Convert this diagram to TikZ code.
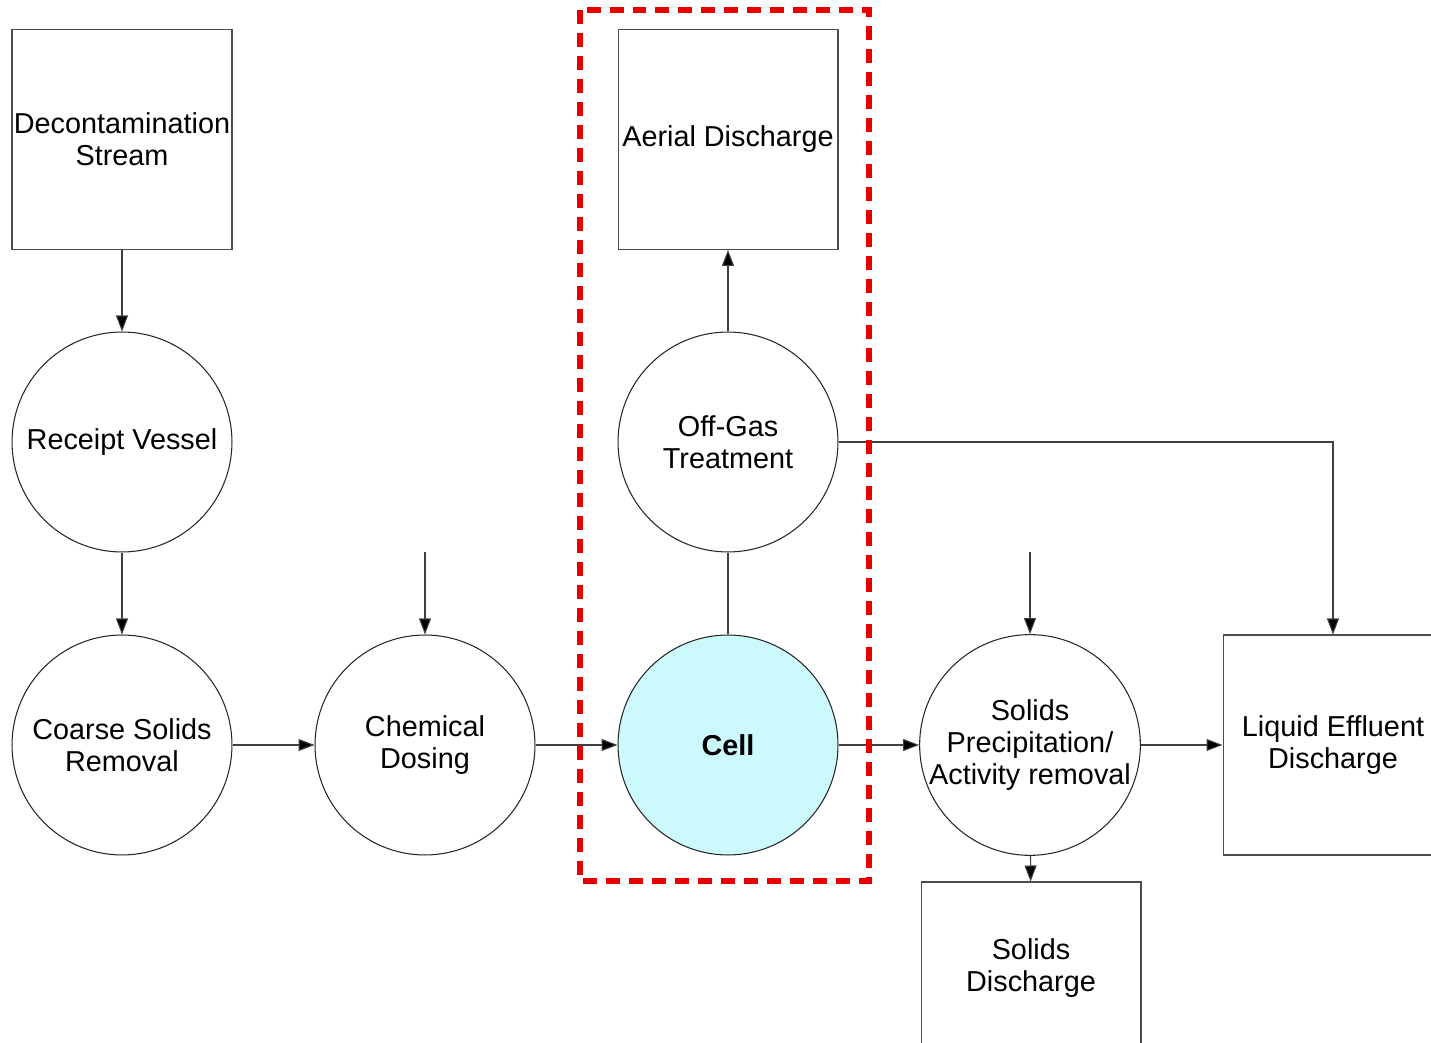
\documentclass[tikz,border=0pt]{standalone}
\usepackage{fontspec}
\setmainfont{Liberation Sans}
\usetikzlibrary{arrows.meta}

\definecolor{cellfill}{RGB}{204,250,252}
\definecolor{boxred}{RGB}{232,0,0}

\begin{document}
\begin{tikzpicture}[x=0.02cm, y=-0.02cm,
	every node/.style={font=\fontsize{16.4}{18.4}\selectfont, align=center, inner sep=0pt},
	unit/.style={draw=black!70, line width=0.6pt, minimum width=4.4cm, minimum height=4.4cm},
	vessel/.style={circle, draw=black!85, line width=0.6pt, minimum size=4.4cm},
	flow/.style={-{Triangle[length=3.2mm, width=2.4mm, fill=black]}, draw=black!75, line width=0.6pt}]
	\useasboundingbox (0,0) rectangle (1431,1043);
	\node [unit] (decon) at (122, 139.5) {Decontamination\\Stream};
	\node [vessel] (receipt) at (122, 442) {Receipt Vessel};
	\node [vessel] (coarse) at (122, 745) {Coarse Solids\\Removal};
	\node [vessel] (dosing) at (425, 745) {Chemical\\Dosing};
	\node [vessel, fill=cellfill, font=\fontsize{16.4}{18.4}\selectfont\bfseries] (cell) at (728, 745) {Cell};
	\node [vessel] (offgas) at (728, 442) {Off-Gas\\Treatment};
	\node [unit] (aerial) at (728, 139.5) {Aerial Discharge};
	\node [vessel] (precip) at (1030, 745) {Solids\\Precipitation/\\Activity removal};
	\node [unit, minimum height=3.44cm] (soliddis) at (1031, 968) {Solids\\Discharge};
	\node [unit] (liquid) at (1333, 745) {Liquid Effluent\\Discharge};
	\coordinate (dosingin) at (425, 552);
	\coordinate (precipin) at (1030, 552);
	\draw [flow] (decon) -- (receipt);
	\draw [flow] (receipt) -- (coarse);
	\draw [flow] (coarse) -- (dosing);
	\draw [flow] (dosing) -- (cell);
	\draw [flow] (cell) -- (precip);
	\draw [flow] (precip) -- (liquid);
	\draw [flow] (precip) -- (soliddis);
	\draw [flow] (dosingin) -- (dosing);
	\draw [flow] (precipin) -- (precip);
	\draw [draw=black!75, line width=0.6pt] (cell) -- (offgas);
	\draw [flow] (offgas) -- (aerial);
	\draw [flow] (offgas.east) -| (liquid.north);
	% boundary of the cell
	\draw [boxred, line width=0.11cm, dash pattern=on 0.28cm off 0.18cm] (580, 10) rectangle (869, 881);
\end{tikzpicture}
\end{document}
